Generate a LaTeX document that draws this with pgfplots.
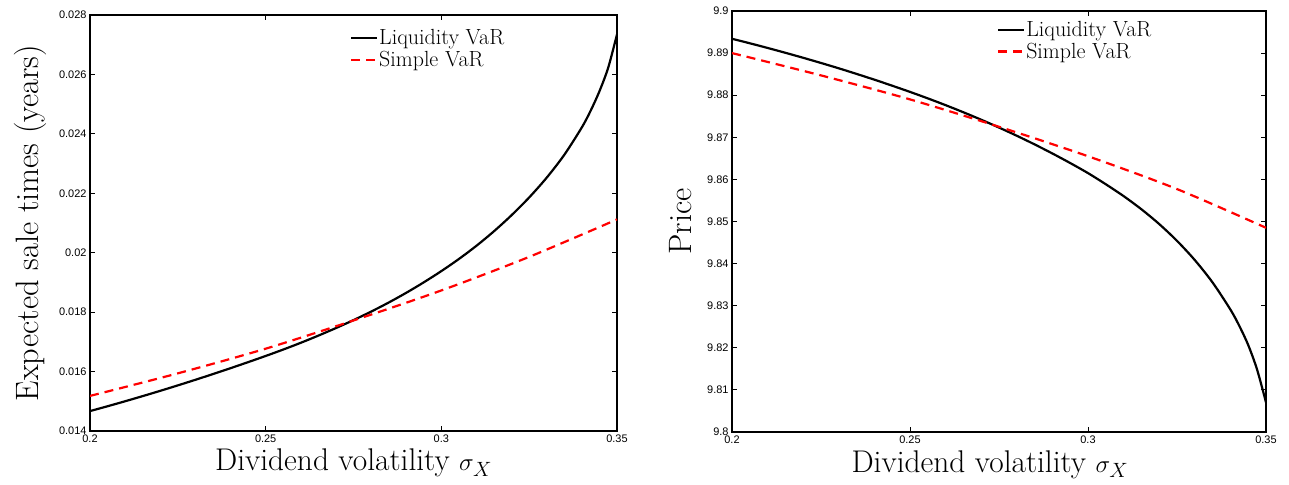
\documentclass[border=0pt]{standalone}
\usepackage{fontspec}
\usepackage{pgfplots}
\pgfplotsset{compat=1.18}
\newfontfamily\tickfont{Liberation Sans}
\pgfplotsset{
  mystyle/.style={
    scale only axis,
    anchor=south west,
    xmin=0.2, xmax=0.35,
    xtick={0.2,0.25,0.3,0.35},
    xticklabels={0.2,0.25,0.3,0.35},
    scaled x ticks=false, scaled y ticks=false,
    tick align=inside,
    xtick pos=both, ytick pos=both,
    major tick length=5bp,
    axis line style={line width=1.2bp},
    every tick/.style={black, line width=0.8bp},
    tick label style={font=\tickfont\fontsize{11}{11}\selectfont},
    xlabel style={font=\fontsize{31.5}{36}\selectfont},
    ylabel style={font=\fontsize{32.5}{36}\selectfont},
    legend style={draw=none, fill=none, font=\fontsize{22}{23}\selectfont,
      anchor=north west, inner sep=0pt, row sep=3bp,
      nodes={inner sep=1bp}},
    legend cell align=left,
    legend image code/.code={\draw[#1] (0bp,0bp) -- (20bp,0bp); \path (0bp,0bp) -- (26bp,0bp);},
  },
  liq/.style={black, line width=2.2bp, smooth, no marks},
  simp/.style={red, line width=2.2bp, dash pattern=on 9bp off 6bp, smooth, no marks},
}
\begin{document}
\begin{tikzpicture}[x=1bp,y=1bp]
\useasboundingbox (0,0) rectangle (1289,485);
\begin{axis}[mystyle,
  at={(90bp,54bp)}, width=527bp, height=416bp,
  ymin=0.014, ymax=0.028,
  ytick={0.014,0.016,0.018,0.02,0.022,0.024,0.026,0.028},
  yticklabels={0.014,0.016,0.018,0.02,0.022,0.024,0.026,0.028},
  xlabel={Dividend volatility $\sigma_X$},
  ylabel={Expected sale times (years)},
  xlabel style={at={(axis description cs:0.5,-0.077)}, anchor=center},
  ylabel style={at={(axis description cs:-0.114,0.5)}, anchor=center},
  legend style={at={(axis description cs:0.493,0.968)}},
]
\addplot[liq] coordinates {
(0.200,0.014670) (0.205,0.014833) (0.210,0.015001) (0.215,0.015174)
(0.220,0.015352) (0.225,0.015535) (0.230,0.015723) (0.235,0.015916)
(0.240,0.016114) (0.245,0.016317) (0.250,0.016525) (0.255,0.016741)
(0.260,0.016969) (0.265,0.017210) (0.270,0.017464) (0.275,0.017732)
(0.280,0.018017) (0.285,0.018322) (0.290,0.018650) (0.295,0.019003)
(0.300,0.019381) (0.305,0.019789) (0.310,0.020234) (0.315,0.020724)
(0.320,0.021264) (0.325,0.021859) (0.330,0.022527) (0.335,0.023295)
(0.340,0.024220) (0.3425,0.024780) (0.345,0.025433) (0.3475,0.026230)
(0.350,0.027350)};
\addlegendentry{Liquidity VaR}
\addplot[simp] coordinates {
(0.2,0.01518) (0.225,0.01594) (0.25,0.01677) (0.275,0.01772)
(0.3,0.01873) (0.325,0.01986) (0.35,0.02112)};
\addlegendentry{Simple VaR}
\end{axis}
\begin{axis}[mystyle,
  at={(732bp,53bp)}, width=534bp, height=421bp,
  ymin=9.8, ymax=9.9,
  ytick={9.8,9.81,9.82,9.83,9.84,9.85,9.86,9.87,9.88,9.89,9.9},
  yticklabels={9.8,9.81,9.82,9.83,9.84,9.85,9.86,9.87,9.88,9.89,9.9},
  xlabel={Dividend volatility $\sigma_X$},
  ylabel={Price},
  xlabel style={at={(axis description cs:0.483,-0.077)}, anchor=center},
  ylabel style={at={(axis description cs:-0.097,0.5)}, anchor=center},
  legend style={at={(axis description cs:0.496,0.978)}},
]
\addplot[liq] coordinates {
(0.200,9.89340) (0.205,9.89233) (0.210,9.89122) (0.215,9.89007)
(0.220,9.88888) (0.225,9.88765) (0.230,9.88638) (0.235,9.88505)
(0.240,9.88368) (0.245,9.88225) (0.250,9.88078) (0.255,9.87924)
(0.260,9.87763) (0.265,9.87594) (0.270,9.87417) (0.275,9.87231)
(0.280,9.87036) (0.285,9.86831) (0.290,9.86615) (0.295,9.86388)
(0.300,9.86149) (0.305,9.85884) (0.310,9.85603) (0.315,9.85290)
(0.320,9.84939) (0.325,9.84540) (0.330,9.84083) (0.335,9.83550)
(0.340,9.82908) (0.3425,9.82520) (0.345,9.82065) (0.3475,9.81480)
(0.350,9.80700)};
\addlegendentry{Liquidity VaR}
\addplot[simp] coordinates {
(0.2,9.8900) (0.225,9.8847) (0.25,9.8790) (0.275,9.8725)
(0.3,9.8655) (0.325,9.8577) (0.35,9.8485)};
\addlegendentry{Simple VaR}
\end{axis}
\end{tikzpicture}
\end{document}
